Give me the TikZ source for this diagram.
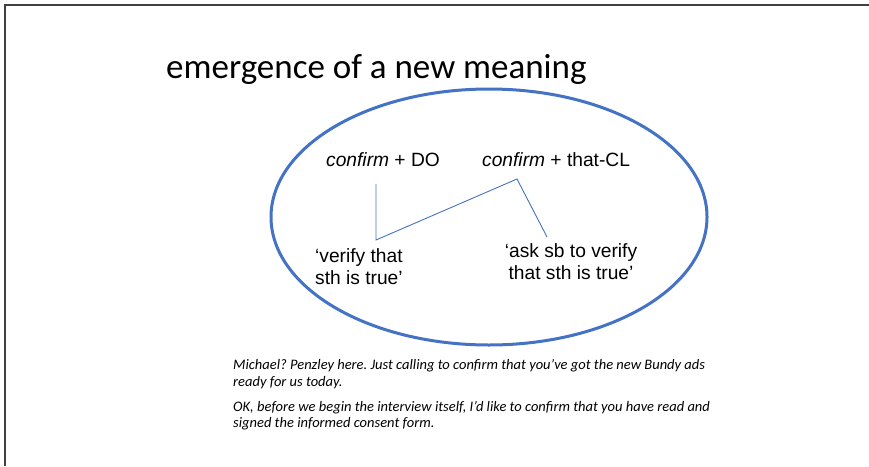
\documentclass[tikz,border=0pt]{standalone}
\usepackage{fontspec}
\setmainfont{Carlito}
\newfontfamily\arialf{Liberation Sans}
\usetikzlibrary{shapes.geometric}
\definecolor{accent}{HTML}{4472C4}
\definecolor{frame}{HTML}{404040}
\frenchspacing
\begin{document}
\begin{tikzpicture}[x=1pt,y=-1pt,
  titletext/.style={anchor=base west,inner sep=0pt,font=\fontsize{35}{42}\selectfont},
  formtext/.style={anchor=base west,inner sep=0pt,font=\arialf\fontsize{19.2}{22}\selectfont},
  meaningtext/.style={anchor=north,inner sep=0pt,align=center,font=\arialf\fontsize{19.2}{22}\selectfont},
  meaningleft/.style={anchor=north west,inner sep=0pt,align=left,font=\arialf\fontsize{19.2}{22}\selectfont},
  exampletext/.style={anchor=base west,inner sep=0pt,font=\itshape\fontsize{14.5}{17}\selectfont},
  link/.style={draw=accent,line width=0.9pt}]
\useasboundingbox (0,0) rectangle (869,466);
\draw[frame,line width=1.5pt] (5,466) -- (5,5) -- (869,5);
\node[titletext] (title) at (166,78) {emergence of a new meaning};
\node[ellipse,draw=accent,line width=3pt,minimum width=436,minimum height=256,inner sep=0pt] (oval) at (489,217) {};
\node[formtext] (do) at (326,166) {\textit{confirm} + DO};
\node[formtext] (cl) at (482,166) {\textit{confirm} + that-CL};
\node[meaningleft] (m1) at (315,248) {‘verify that\\sth is true’};
\node[meaningtext] (m2) at (571,243) {‘ask sb to verify\\that sth is true’};
\coordinate (a1) at (376,184);
\coordinate (a2) at (376,240);
\coordinate (b1) at (517,179);
\coordinate (b2) at (547,237);
\draw[link] (a1) -- (a2) -- (b1) -- (b2);
\node[exampletext] (e1) at (233,369) {Michael? Penzley here. Just calling to confirm that you’ve got the new Bundy ads};
\node[exampletext] (e2) at (233,386) {ready for us today.};
\node[exampletext] (e3) at (233,411) {OK, before we begin the interview itself, I'd like to confirm that you have read and};
\node[exampletext] (e4) at (233,427) {signed the informed consent form.};
\end{tikzpicture}
\end{document}
